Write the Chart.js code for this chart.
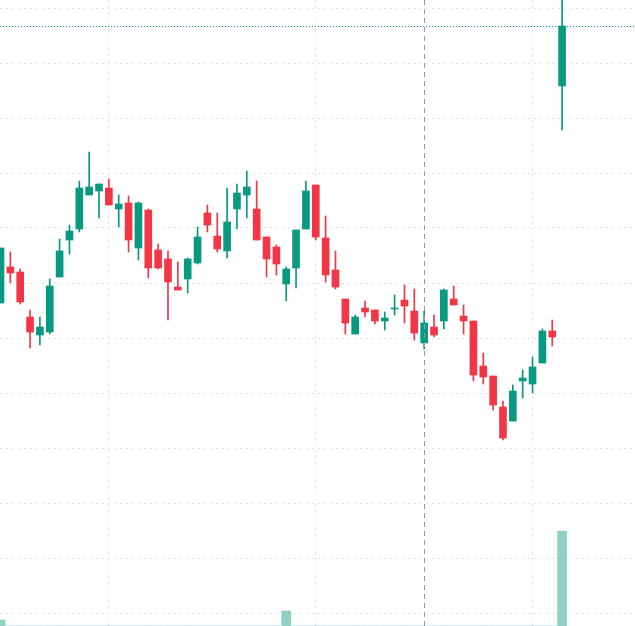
<!DOCTYPE html>
<html>
<head>
<meta charset="utf-8">
<script src="https://cdn.jsdelivr.net/npm/chart.js@4"></script>
<style>
  html, body { margin: 0; padding: 0; background: #fff; }
  #wrap { width: 635px; height: 626px; }
</style>
</head>
<body>
<div id="wrap"><canvas id="candles"></canvas></div>
<script>
// OHLC (arbitrary price units)
const opens  = [323,359,354,309,291,294,349,386,397,431,435,438,417,423,378,416,376,367,339,347,363,413,390,375,417,431,417,389,379,342,358,397,441,388,356,327,292,318,316,305,317,326,315,283,299,305,327,310,305,260,250,219,205,245,242,263,295,540];
const closes = [378,353,324,294,299,340,375,395,438,439,442,421,422,386,423,358,358,344,336,367,389,401,377,404,433,439,386,367,362,357,396,435,389,351,339,303,309,314,305,308,318,320,293,303,291,336,321,305,251,249,221,188,235,248,259,295,289,600];
const highs  = [378,374,357,316,309,347,387,401,445,474,442,447,431,430,424,417,382,375,364,368,399,421,413,438,442,455,445,389,381,359,396,445,441,410,375,327,311,325,316,314,331,341,337,315,311,337,340,321,305,273,250,225,241,256,269,297,306,640];
const lows   = [323,343,322,278,281,292,349,372,394,431,408,421,399,374,366,348,357,306,336,333,362,394,374,368,397,408,386,349,351,325,338,397,386,344,337,292,292,309,302,296,311,303,286,277,289,297,321,292,245,242,216,186,205,228,233,263,280,496];
const volumes = [6,0,0,0,0,0,0,0,0,0,0,0,0,0,0,0,0,0,0,0,0,0,0,0,0,0,0,0,0,15,0,0,0,0,0,0,0,0,0,0,0,0,0,0,0,0,0,0,0,0,0,0,0,0,0,0,0,95];
const gridPrices = [618,563,508,453,398,343,288,233,178,123,68,13];
const gridSlots = [11,32,54];
const crossSlot = 43;
const lastPrice = 600;

const UP = '#089981', DOWN = '#f23645';
const colors = opens.map((o, i) => closes[i] >= o ? UP : DOWN);

const bodies = opens.map((o, i) => ({ x: i, y: [o, closes[i]] }));
const wicks = opens.map((o, i) => ({ x: i, y: [lows[i], highs[i]] }));
const vols = volumes.map((v, i) => ({ x: i, y: v }));

const overlay = {
  id: 'overlay',
  afterDraw(chart) {
    const { ctx, scales: { x, y }, chartArea: a } = chart;
    ctx.save();
    ctx.lineWidth = 1;
    ctx.strokeStyle = '#9598a1';
    ctx.setLineDash([5, 4]);
    const cx = Math.round(x.getPixelForValue(crossSlot)) + 0.5;
    ctx.beginPath(); ctx.moveTo(cx, a.top); ctx.lineTo(cx, a.bottom); ctx.stroke();
    ctx.strokeStyle = '#089981';
    ctx.setLineDash([1, 2]);
    const py = Math.round(y.getPixelForValue(lastPrice)) + 0.5;
    ctx.beginPath(); ctx.moveTo(a.left, py); ctx.lineTo(a.right, py); ctx.stroke();
    ctx.restore();
  }
};

new Chart(document.getElementById('candles'), {
  type: 'bar',
  data: {
    datasets: [
      { data: vols, yAxisID: 'yv', backgroundColor: 'rgba(8,153,129,0.45)', barThickness: 9, grouped: false, order: 3 },
      { data: wicks, backgroundColor: colors, barThickness: 1, grouped: false, order: 2 },
      { data: bodies, backgroundColor: colors, barThickness: 7, grouped: false, order: 1 }
    ]
  },
  options: {
    responsive: true,
    maintainAspectRatio: false,
    animation: false,
    layout: { padding: 0 },
    plugins: { legend: { display: false }, tooltip: { enabled: false } },
    scales: {
      x: {
        type: 'linear', min: -0.05, max: 64.4, offset: false,
        afterBuildTicks: s => { s.ticks = gridSlots.map(v => ({ value: v })); },
        ticks: { display: false },
        border: { display: false, dash: [2, 4] },
        grid: { drawTicks: false, offset: false, color: '#e0e3eb' }
      },
      y: {
        min: 0, max: 626,
        afterBuildTicks: s => { s.ticks = gridPrices.map(v => ({ value: v })); },
        ticks: { display: false },
        border: { display: false, dash: [2, 4] },
        grid: { drawTicks: false, color: '#e0e3eb' }
      },
      yv: { display: false, min: 0, max: 626 }
    }
  },
  plugins: [overlay]
});
</script>
</body>
</html>
